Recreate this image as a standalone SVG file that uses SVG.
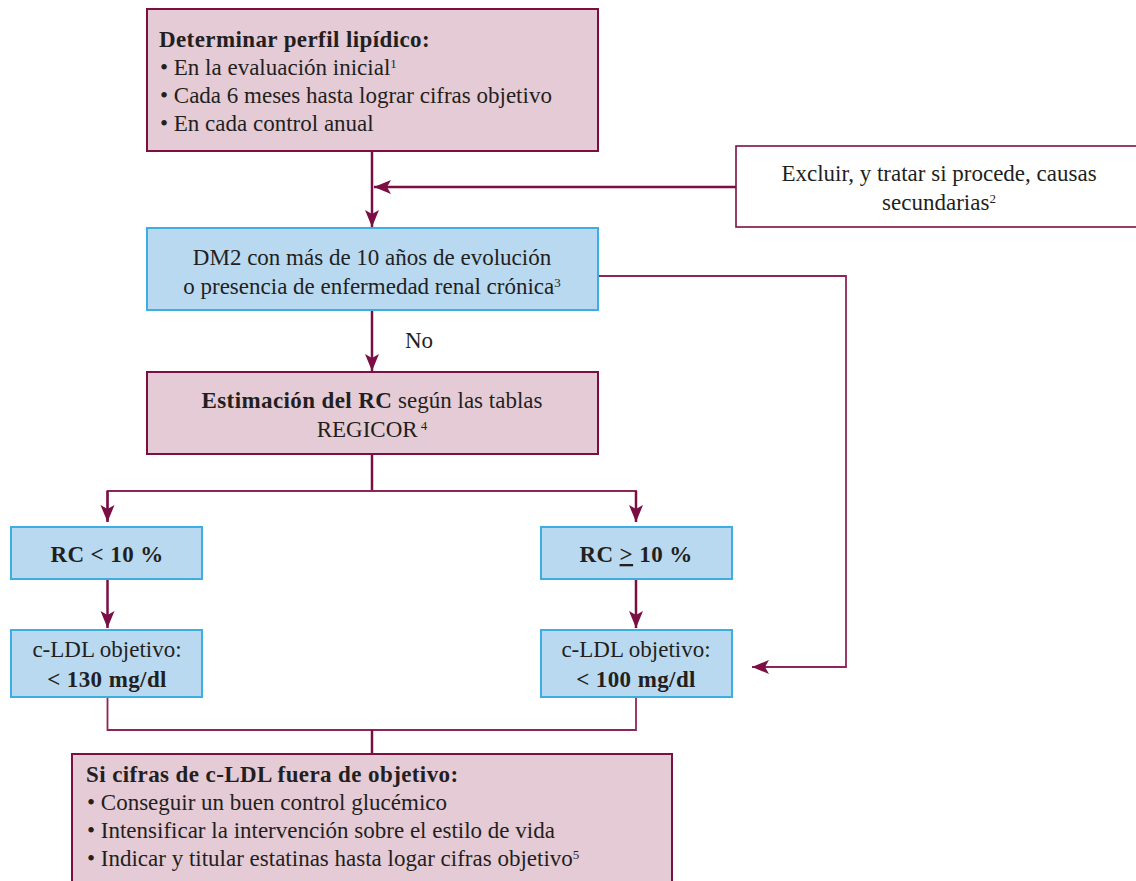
<svg xmlns="http://www.w3.org/2000/svg" width="1136" height="881" viewBox="0 0 1136 881">
<style>
.pink{fill:#e5cbd5;stroke:#7b0f44;stroke-width:2}
.blue{fill:#b9d9f1;stroke:#3daee2;stroke-width:2}
.white{fill:#ffffff;stroke:#7b0f44;stroke-width:1.6}
.t{font-family:"Liberation Serif","Times New Roman",serif;font-size:23px;fill:#231f20}
.b{font-weight:bold;letter-spacing:0.4px}
.c{text-anchor:middle}
.sup{font-size:13px;font-weight:normal;letter-spacing:0}
.main{fill:none;stroke:#7b0f44;stroke-width:2.5}
.thin{fill:none;stroke:#8e2558;stroke-width:1.8}
</style>
<defs>
<marker id="ah" markerUnits="userSpaceOnUse" markerWidth="18" markerHeight="16" viewBox="0 0 18 16" refX="17" refY="8" orient="auto">
<path d="M0,1 L17,8 L0,15 L4,8 z" fill="#7b0f44"/>
</marker>
</defs>
<g id="connectors">
<line class="main" x1="372" y1="151" x2="372" y2="227" marker-end="url(#ah)"/>
<line class="main" x1="736" y1="187" x2="374" y2="187" marker-end="url(#ah)"/>
<polyline class="thin" points="598,276 846,276 846,667 752,667" marker-end="url(#ah)"/>
<line class="main" x1="372" y1="310" x2="372" y2="371" marker-end="url(#ah)"/>
<polyline class="main" points="372,454 372,491"/>
<polyline class="thin" points="107.5,521 107.5,491 636,491 636,521"/>
<line class="main" x1="107.5" y1="491" x2="107.5" y2="522" marker-end="url(#ah)"/>
<line class="main" x1="636" y1="491" x2="636" y2="522" marker-end="url(#ah)"/>
<line class="main" x1="107.5" y1="579" x2="107.5" y2="628" marker-end="url(#ah)"/>
<line class="main" x1="636" y1="579" x2="636" y2="628" marker-end="url(#ah)"/>
<polyline class="thin" points="107.5,697 107.5,730 636,730 636,697"/>
<line class="main" x1="372" y1="730" x2="372" y2="754"/>
<text class="t" x="405" y="348">No</text>
</g>
<g id="n1">
<rect class="pink" x="147" y="9" width="451" height="142"/>
<text class="t b" x="159" y="47">Determinar perfil lipídico:</text>
<text class="t" x="160" y="75">• En la evaluación inicial<tspan class="sup" baseline-shift="super">1</tspan></text>
<text class="t" x="160" y="103">• Cada 6 meses hasta lograr cifras objetivo</text>
<text class="t" x="160" y="131">• En cada control anual</text>
</g>
<g id="n2">
<rect class="white" x="736" y="146" width="402" height="81"/>
<text class="t c" x="939" y="181">Excluir, y tratar si procede, causas</text>
<text class="t c" x="939" y="210">secundarias<tspan class="sup" baseline-shift="super">2</tspan></text>
</g>
<g id="n3">
<rect class="blue" x="147" y="228" width="451" height="82"/>
<text class="t c" x="372" y="265">DM2 con más de 10 años de evolución</text>
<text class="t c" x="372" y="294">o presencia de enfermedad renal crónica<tspan class="sup" baseline-shift="super">3</tspan></text>
</g>
<g id="n4">
<rect class="pink" x="147" y="372" width="451" height="82"/>
<text class="t c" x="372" y="408"><tspan class="b">Estimación del RC</tspan> según las tablas</text>
<text class="t c" x="372" y="437">REGICOR<tspan class="sup" baseline-shift="super"> 4</tspan></text>
</g>
<g id="n5">
<rect class="blue" x="11" y="527" width="191" height="52"/>
<text class="t b c" x="107" y="562">RC &lt; 10 %</text>
</g>
<g id="n6">
<rect class="blue" x="541" y="527" width="191" height="52"/>
<text class="t b c" x="636" y="562">RC <tspan text-decoration="underline">&gt;</tspan> 10 %</text>
</g>
<g id="n7">
<rect class="blue" x="11" y="630" width="191" height="67"/>
<text class="t c" x="107" y="657">c-LDL objetivo:</text>
<text class="t b c" x="107" y="687">&lt; 130 mg/dl</text>
</g>
<g id="n8">
<rect class="blue" x="541" y="630" width="191" height="67"/>
<text class="t c" x="636" y="657">c-LDL objetivo:</text>
<text class="t b c" x="636" y="687">&lt; 100 mg/dl</text>
</g>
<g id="n9">
<rect class="pink" x="72" y="754" width="600" height="140"/>
<text class="t b" x="86" y="782">Si cifras de c-LDL fuera de objetivo:</text>
<text class="t" x="87" y="810">• Conseguir un buen control glucémico</text>
<text class="t" x="87" y="838">• Intensificar la intervención sobre el estilo de vida</text>
<text class="t" x="87" y="866">• Indicar y titular estatinas hasta logar cifras objetivo<tspan class="sup" baseline-shift="super">5</tspan></text>
</g>
</svg>
